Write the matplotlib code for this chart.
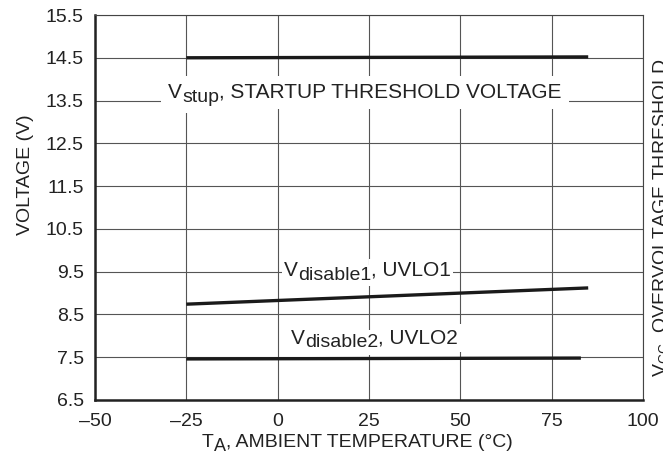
import matplotlib
matplotlib.use("Agg")
import matplotlib.pyplot as plt

# data
temp_stup = [-25, 85]
v_stup = [14.50, 14.52]
temp_dis1 = [-25, 85]
v_dis1 = [8.74, 9.12]
temp_dis2 = [-25, 83]
v_dis2 = [7.46, 7.48]

x_ticks = [-50, -25, 0, 25, 50, 75, 100]
x_tick_labels = ["\u201350", "\u201325", "0", "25", "50", "75", "100"]
y_ticks = [6.5, 7.5, 8.5, 9.5, 10.5, 11.5, 12.5, 13.5, 14.5, 15.5]

plt.rcParams["font.family"] = ["Liberation Sans", "DejaVu Sans"]
plt.rcParams["mathtext.fontset"] = "custom"
plt.rcParams["mathtext.rm"] = "Liberation Sans"
plt.rcParams["mathtext.it"] = "Liberation Sans:italic"

TXT = "#222222"


def chain_text(ax, x, y, pieces, xycoords, size, sub_size, pad=None):
    """Write text pieces one after another; (text, True) pieces are subscripts.
    With pad, a white box is put behind the whole run first."""
    passes = [(pad, (0, 0, 0, 0), 3), (None, TXT, 4)] if pad is not None else [(None, TXT, 4)]
    for box_pad, color, z in passes:
        first = prev = None
        for s, is_sub in pieces:
            fs = sub_size if is_sub else size
            kw = dict(fontsize=fs, color=color, ha="left", zorder=z)
            if box_pad is not None:
                kw["bbox"] = dict(boxstyle=f"square,pad={box_pad * size / fs:.3f}",
                                  facecolor="white", edgecolor="none")
            if first is None:
                t = ax.annotate(s, (x, y), xycoords=xycoords, va="baseline", **kw)
                first = t
            else:
                t = ax.annotate(s, (1, 0), xycoords=(prev, first),
                                xytext=(0, -2.7 if is_sub else 0),
                                textcoords="offset points", va="bottom", **kw)
            prev = t


W, H = 663, 470
fig = plt.figure(figsize=(W / 100, H / 100), dpi=100)
ax = fig.add_axes([95 / W, (H - 400) / H, 548 / W, 385 / H])

ax.set_xlim(-50, 100)
ax.set_ylim(6.5, 15.5)
ax.set_xticks(x_ticks)
ax.set_xticklabels(x_tick_labels)
ax.set_yticks(y_ticks)
ax.set_yticklabels([f"{v:.1f}" for v in y_ticks])
ax.tick_params(length=0, pad=8, labelsize=14, colors=TXT)
ax.tick_params(axis="x", pad=9)

ax.grid(True, color="#555555", linewidth=0.8)
ax.set_axisbelow(True)

for side in ("left", "bottom"):
    ax.spines[side].set_linewidth(1.8)
    ax.spines[side].set_color("#222222")
for side in ("top", "right"):
    ax.spines[side].set_linewidth(0.8)
    ax.spines[side].set_color("#444444")

line_kw = dict(color="#1a1a1a", linewidth=2.4, solid_capstyle="butt", zorder=5)
ax.plot(temp_stup, v_stup, **line_kw)
ax.plot(temp_dis1, v_dis1, **line_kw)
ax.plot(temp_dis2, v_dis2, **line_kw)

# curve labels, with white boxes that break the grid
chain_text(ax, -30.0, 13.56,
           [("V", False), ("stup", True), (", STARTUP THRESHOLD VOLTAGE", False)],
           "data", 15, 14, pad=0.35)
chain_text(ax, 1.7, 9.40,
           [("V", False), ("disable1", True), (", UVLO1", False)],
           "data", 15, 14, pad=0.1)
chain_text(ax, 3.6, 7.82,
           [("V", False), ("disable2", True), (", UVLO2", False)],
           "data", 15, 14, pad=0.2)

# axis titles
chain_text(ax, 202 / W, 1 - 447 / H,
           [("T", False), ("A", True), (", AMBIENT TEMPERATURE (\u00b0C)", False)],
           "figure fraction", 14, 13)
fig.text(26 / W, 1 - 175 / H, "VOLTAGE (V)", rotation=90, fontsize=14,
         ha="center", va="center", color=TXT)
fig.text(651 / W, 1 - 377 / H, r"V$_{\rm CC}$, OVERVOLTAGE THRESHOLD",
         rotation=90, fontsize=14, ha="left", va="bottom", color=TXT)

fig.savefig("out.png", dpi=100)
